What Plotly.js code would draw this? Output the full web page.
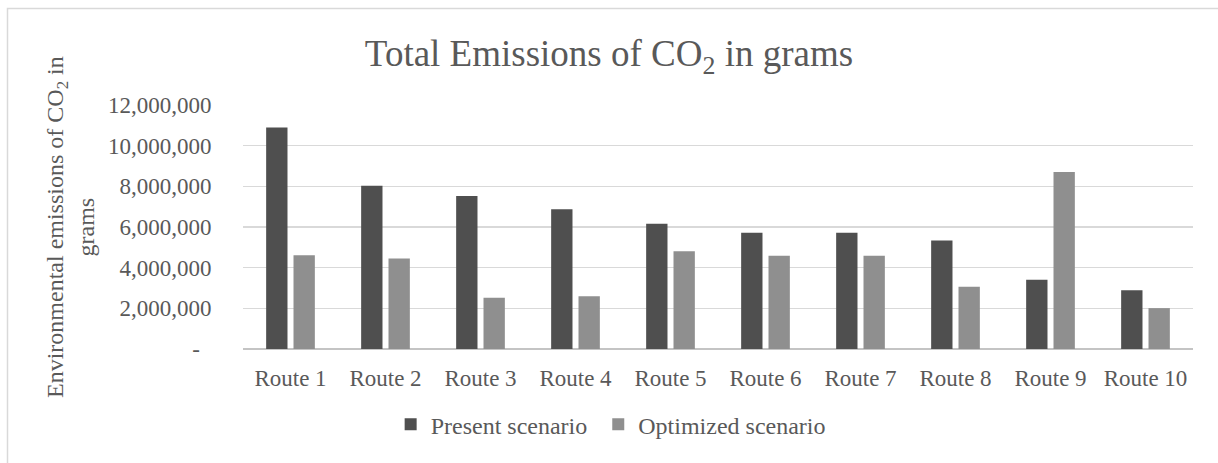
<!DOCTYPE html>
<html>
<head>
<meta charset="utf-8">
<script src="https://cdn.plot.ly/plotly-3.0.1.min.js"></script>
<style>
  html, body { margin: 0; padding: 0; background: #ffffff; }
  #chart { width: 1218px; height: 463px; }
</style>
</head>
<body>
<div id="chart"></div>
<script>
const categories = ["Route 1", "Route 2", "Route 3", "Route 4", "Route 5",
                    "Route 6", "Route 7", "Route 8", "Route 9", "Route 10"];
const presentScenario = [10890000, 8030000, 7520000, 6870000, 6160000,
                         5720000, 5720000, 5330000, 3400000, 2890000];
const optimizedScenario = [4610000, 4450000, 2520000, 2600000, 4810000,
                           4580000, 4580000, 3060000, 8700000, 2010000];
const yTickVals = [0, 2000000, 4000000, 6000000, 8000000, 10000000, 12000000];
const yTickText = ["-\u00a0\u00a0", "2,000,000", "4,000,000", "6,000,000",
                   "8,000,000", "10,000,000", "12,000,000"];
const seriesNames = ["Present scenario\u00a0", "Optimized scenario"];

const FONT = '"Liberation Serif", "Times New Roman", Times, serif';
const TXT = '#595959';

const traces = [
  {
    type: 'bar', name: seriesNames[0], x: categories, y: presentScenario,
    marker: { color: '#4f4f4f', line: { width: 0 } },
    hoverinfo: 'x+y'
  },
  {
    type: 'bar', name: seriesNames[1], x: categories, y: optimizedScenario,
    marker: { color: '#8f8f8f', line: { width: 0 } },
    hoverinfo: 'x+y'
  }
];

const layout = {
  width: 1218, height: 463,
  paper_bgcolor: '#ffffff', plot_bgcolor: '#ffffff',
  margin: { l: 243, r: 25, t: 105, b: 114 },
  font: { family: FONT, size: 23, color: TXT },
  title: {
    text: 'Total Emissions of CO<sub>2</sub> in grams',
    font: { family: FONT, size: 37, color: TXT },
    x: 0.5, xref: 'container', xanchor: 'center',
    y: 1 - 53 / 463, yref: 'container', yanchor: 'middle'
  },
  barmode: 'group',
  bargap: 0.424,
  bargroupgap: 0.22,
  showlegend: true,
  legend: {
    orientation: 'h',
    x: 0.387, xanchor: 'center', xref: 'paper',
    y: -0.31, yanchor: 'middle', yref: 'paper',
    font: { family: FONT, size: 24, color: TXT },
    itemwidth: 30,
    tracegroupgap: 0,
    bgcolor: 'rgba(0,0,0,0)'
  },
  xaxis: {
    type: 'category',
    showgrid: false,
    showline: false,
    zeroline: false,
    ticks: 'outside', ticklen: 8, tickcolor: 'rgba(0,0,0,0)',
    tickfont: { family: FONT, size: 23, color: TXT },
    fixedrange: true
  },
  yaxis: {
    range: [0, 12000000],
    tickvals: yTickVals,
    ticktext: yTickText,
    showgrid: true, gridcolor: '#d9d9d9', gridwidth: 1.3,
    zeroline: true, zerolinecolor: '#c4c4c4', zerolinewidth: 2.2,
    showline: false,
    ticks: 'outside', ticklen: 26, tickcolor: 'rgba(0,0,0,0)',
    tickfont: { family: FONT, size: 23, color: TXT },
    fixedrange: true
  },
  annotations: [
    {
      text: 'Environmental emissions of CO<sub>2</sub> in<br>grams',
      textangle: -90,
      xref: 'paper', yref: 'paper',
      x: -(243 - 70) / 950, y: 0.5,
      xanchor: 'center', yanchor: 'middle',
      showarrow: false,
      font: { family: FONT, size: 24, color: TXT }
    }
  ],
  shapes: [
    {
      type: 'rect', xref: 'paper', yref: 'paper',
      x0: -(243 - 7.5) / 950, x1: 1 + (1218 - 1193 + 20) / 950,
      y0: -(463 - 349 + 20) / 244, y1: 1 + (105 - 8.5) / 244,
      line: { color: '#d9d9d9', width: 1.5 },
      fillcolor: 'rgba(0,0,0,0)',
      layer: 'below'
    }
  ]
};

Plotly.newPlot('chart', traces, layout, { displayModeBar: false, staticPlot: true });
</script>
</body>
</html>
